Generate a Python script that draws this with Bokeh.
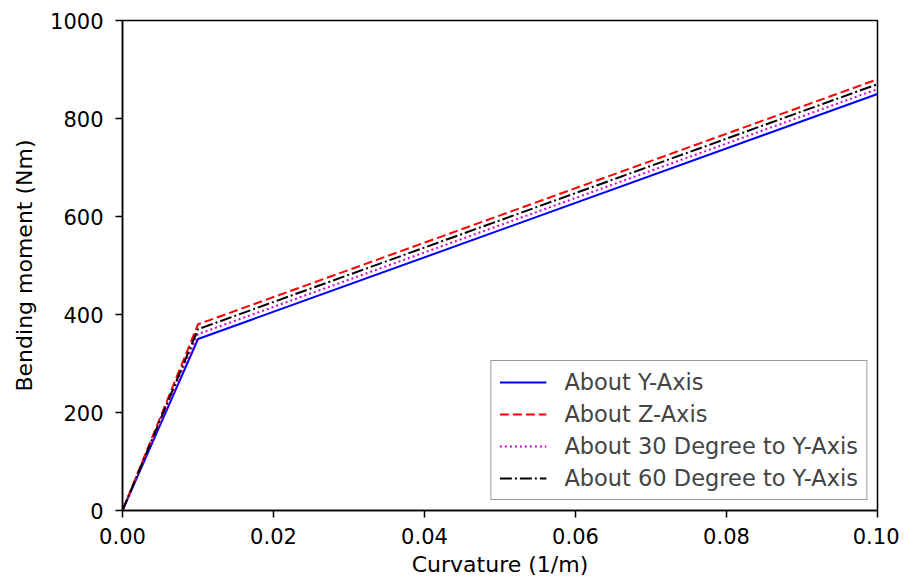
from bokeh.plotting import figure
from bokeh.models import FixedTicker, Range1d, Legend, LegendItem, CustomJSTickFormatter
from bokeh.embed import file_html
from bokeh.resources import INLINE

curvature = [0.0, 0.01, 0.1]
m_y = [0, 350, 850]
m_z = [0, 380, 880]
m_30 = [0, 360, 860]
m_60 = [0, 370, 870]
labels = ["About Y-Axis", "About Z-Axis", "About 30 Degree to Y-Axis", "About 60 Degree to Y-Axis"]
x_ticks = [0.0, 0.02, 0.04, 0.06, 0.08, 0.10]
y_ticks = [0, 200, 400, 600, 800, 1000]

FONT = "DejaVu Sans"
p = figure(width=899, height=579, output_backend="svg", toolbar_location=None,
           x_range=Range1d(0, 0.1), y_range=Range1d(0, 1000),
           min_border_left=122, min_border_right=22, min_border_top=20, min_border_bottom=69)
p.grid.visible = False
p.outline_line_color = "black"
p.outline_line_width = 1.5
p.background_fill_color = "white"
p.border_fill_color = "white"

r1 = p.line(curvature, m_y, line_color="blue", line_width=2)
r2 = p.line(curvature, m_z, line_color="red", line_width=2, line_dash="9 4")
r3 = p.line(curvature, m_30, line_color="#d000d0", line_width=2, line_dash="2 3")
r4 = p.line(curvature, m_60, line_color="black", line_width=2, line_dash="12 3 2 3")

for ax in (p.xaxis[0], p.yaxis[0]):
    ax.axis_line_width = 1.5
    ax.major_tick_line_width = 1.5
    ax.major_tick_in = 0
    ax.major_tick_out = 7
    ax.minor_tick_line_color = None
    ax.major_label_text_font = FONT
    ax.major_label_text_font_size = "21px"
    ax.major_label_text_color = "black"
    ax.axis_label_text_font = FONT
    ax.axis_label_text_font_size = "22px"
    ax.axis_label_text_font_style = "normal"
    ax.axis_label_text_color = "black"

p.xaxis.ticker = FixedTicker(ticks=x_ticks)
p.yaxis.ticker = FixedTicker(ticks=y_ticks)
p.xaxis.formatter = CustomJSTickFormatter(code="return tick.toFixed(2);")
p.xaxis.axis_label = "Curvature (1/m)"
p.yaxis.axis_label = "Bending moment (Nm)"
p.xaxis.major_label_standoff = 10
p.yaxis.major_label_standoff = 12
p.xaxis.axis_label_standoff = 5
p.yaxis.axis_label_standoff = 10

legend = Legend(items=[LegendItem(label=labels[0], renderers=[r1]),
                       LegendItem(label=labels[1], renderers=[r2]),
                       LegendItem(label=labels[2], renderers=[r3]),
                       LegendItem(label=labels[3], renderers=[r4])],
                location="bottom_right")
legend.label_text_font = FONT
legend.label_text_font_size = "22.5px"
legend.glyph_width = 47
legend.label_standoff = 18
legend.spacing = 6
legend.padding = 8
legend.margin = 10
legend.border_line_color = "#333333"
legend.border_line_width = 1.5
legend.background_fill_alpha = 1.0
p.add_layout(legend)

open("out.html", "w").write(file_html(p, INLINE))
